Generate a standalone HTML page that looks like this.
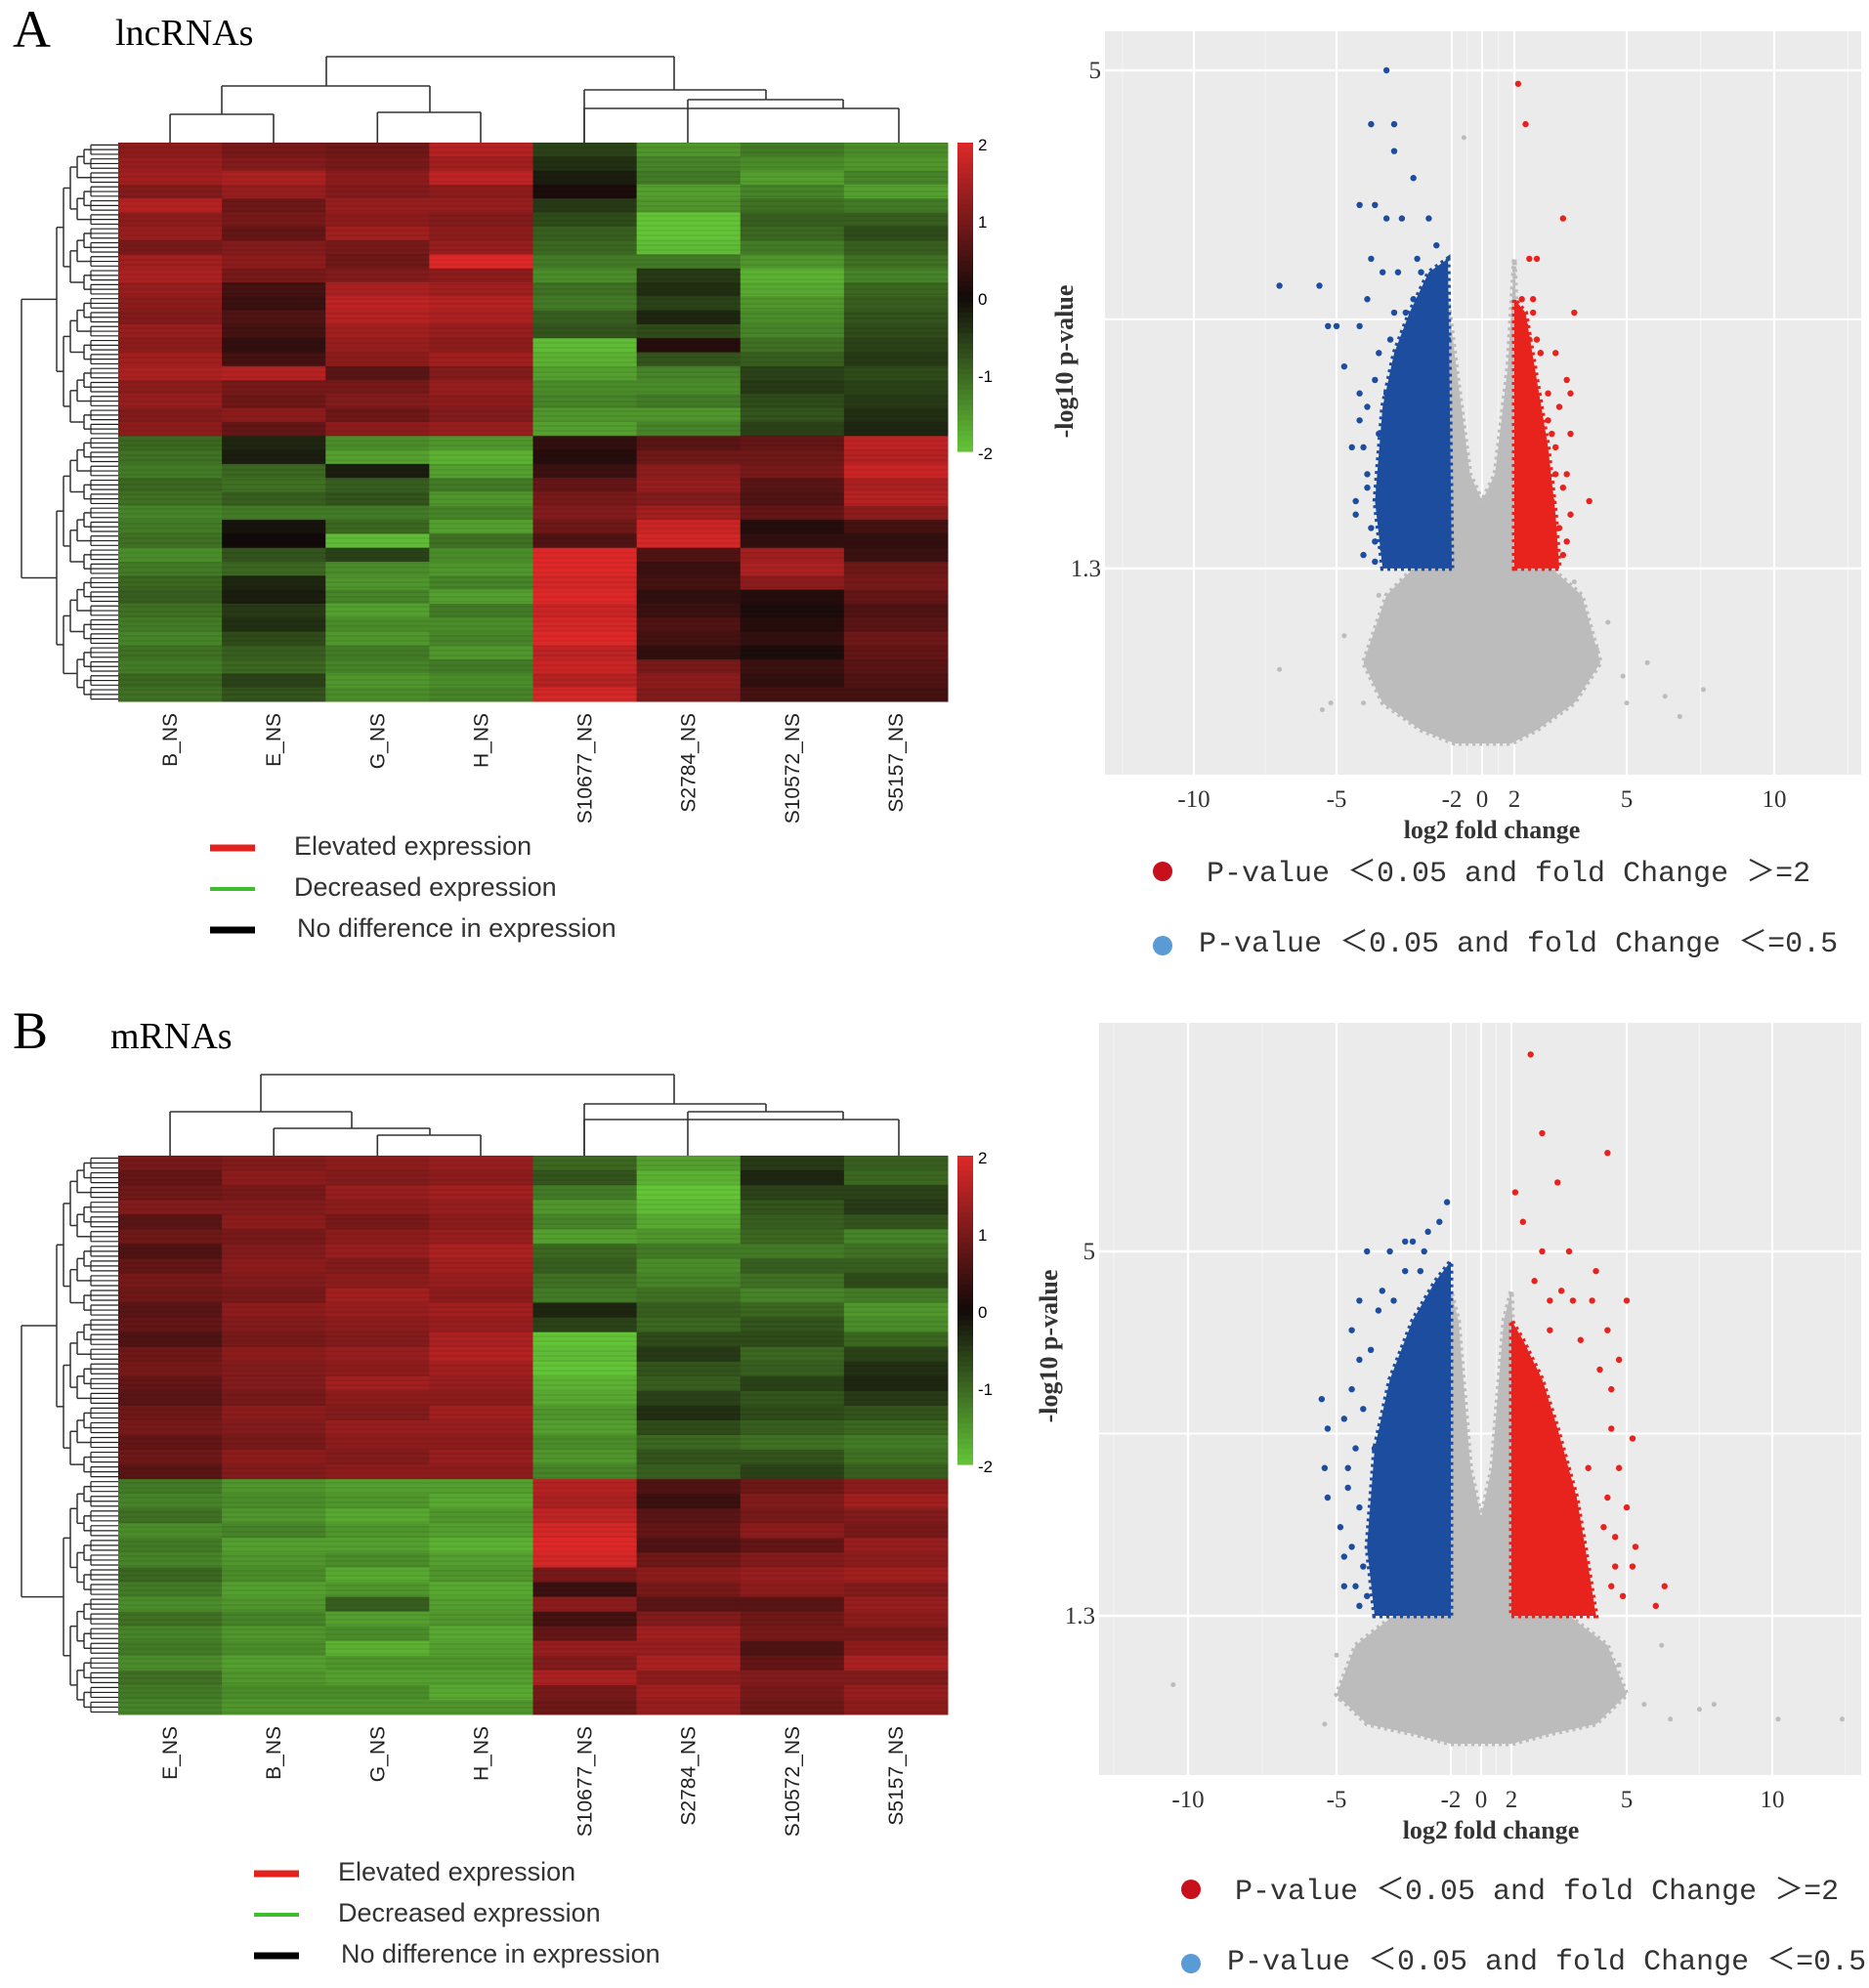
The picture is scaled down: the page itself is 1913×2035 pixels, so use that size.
<!DOCTYPE html>
<html><head><meta charset="utf-8">
<style>
html,body{margin:0;padding:0;background:#fff;}
svg{display:block;}
.ser{font-family:"Liberation Serif",serif;}
.sans{font-family:"Liberation Sans",sans-serif;}
.mono{font-family:"Liberation Mono","Noto Sans CJK SC",monospace;}
</style></head>
<body>
<svg id="chart" width="1913" height="2035" viewBox="0 0 1913 2035" xmlns="http://www.w3.org/2000/svg">
<text class="ser" x="13" y="48" font-size="54">A</text>
<text class="ser" x="118" y="46" font-size="38">lncRNAs</text>
<text class="ser" x="13" y="1073" font-size="54">B</text>
<text class="ser" x="113" y="1073" font-size="38">mRNAs</text>
</svg>
<script>
// ---------- Heatmap data (panel A, lncRNAs) ----------
const samplesA = ["B_NS","E_NS","G_NS","H_NS","S10677_NS","S2784_NS","S10572_NS","S5157_NS"];
const hmA_B = [1.2,1.3,1.4,1.1,1.6,1.2,1.3,1.0,1.4,1.5,1.3,1.2,1.1,1.3,1.2,1.4,1.5,1.2,1.3,1.1,1.2,-1.0,-1.1,-1.2,-1.0,-1.1,-1.3,-1.2,-1.1,-1.4,-1.2,-1.0,-0.9,-1.1,-1.2,-1.3,-1.1,-1.2,-1.0,-1.1];
const hmA_E = [1.0,1.1,1.5,1.3,0.9,1.0,0.8,1.1,1.2,1.0,0.5,0.4,0.6,0.5,0.3,0.5,1.6,1.0,0.9,1.2,0.8,-0.3,-0.2,-1.0,-1.1,-0.9,-1.2,-0.1,0.0,-0.8,-1.0,-0.3,-0.2,-0.5,-0.4,-0.7,-0.9,-1.0,-0.6,-0.8];
const hmA_G = [0.9,1.0,1.2,1.1,1.3,1.2,1.4,1.0,0.9,1.1,1.5,1.7,1.6,1.4,1.3,1.2,0.7,1.0,1.1,0.9,1.2,-1.4,-1.6,-0.2,-0.9,-0.8,-1.2,-1.0,-1.9,-0.6,-1.4,-1.5,-1.3,-1.6,-1.4,-1.5,-1.2,-1.3,-1.5,-1.4];
const hmA_H = [1.6,1.4,1.7,1.2,1.3,1.1,1.2,1.3,2.0,1.2,1.4,1.6,1.5,1.3,1.2,1.4,1.1,1.3,1.2,1.1,1.3,-1.5,-1.8,-1.6,-1.2,-1.5,-1.3,-1.6,-1.1,-1.4,-1.5,-1.3,-1.6,-1.2,-1.4,-1.3,-1.5,-1.2,-1.4,-1.3];
const hmA_S10677 = [-0.6,-0.4,-0.2,0.1,-0.5,-0.7,-0.9,-1.0,-1.2,-1.4,-1.1,-1.2,-0.9,-0.8,-1.9,-1.8,-1.6,-1.4,-1.3,-1.5,-1.6,0.3,0.2,0.4,0.8,1.0,1.1,0.9,0.6,2.0,2.0,1.9,2.0,1.8,1.9,2.0,1.7,1.8,1.6,1.9];
const hmA_S2784 = [-1.5,-1.3,-1.2,-1.6,-1.5,-2.0,-2.0,-1.9,-1.2,-0.5,-0.4,-0.6,-0.3,-0.7,0.2,-0.8,-1.3,-1.4,-1.2,-1.5,-1.3,0.7,0.9,1.2,1.3,1.1,1.4,1.8,1.9,0.6,0.4,0.5,0.3,0.4,0.6,0.5,0.3,1.0,1.2,1.1];
const hmA_S10572 = [-1.2,-1.4,-1.6,-1.3,-1.1,-0.9,-1.0,-1.2,-1.5,-1.8,-1.7,-1.5,-1.4,-1.3,-1.1,-0.9,-0.6,-0.5,-0.7,-0.8,-0.6,0.8,0.9,1.0,0.7,0.6,0.8,0.2,0.3,1.4,1.5,1.2,0.2,0.1,0.2,0.3,0.1,0.4,0.3,0.5];
const hmA_S5157 = [-1.4,-1.5,-1.3,-1.6,-1.2,-0.9,-0.7,-0.9,-1.1,-1.3,-1.0,-0.9,-0.8,-0.7,-0.6,-0.5,-0.7,-0.6,-0.5,-0.4,-0.3,1.7,1.6,1.8,1.5,1.6,1.2,0.5,0.3,0.4,0.9,1.0,0.8,0.6,0.7,0.9,0.8,0.7,0.6,0.5];

// ---------- Heatmap data (panel B, mRNAs) ----------
const samplesB = ["E_NS","B_NS","G_NS","H_NS","S10677_NS","S2784_NS","S10572_NS","S5157_NS"];
const hmB_E = [1.0,0.8,0.9,1.1,0.7,0.9,0.6,0.8,1.0,0.9,0.7,0.8,0.6,0.9,1.0,0.8,0.7,0.9,1.0,0.8,0.9,0.7,-1.2,-1.3,-1.1,-1.4,-1.2,-1.3,-1.0,-1.2,-1.4,-1.1,-1.3,-1.2,-1.4,-1.1,-1.2,-1.3];
const hmB_B = [1.1,1.2,1.0,1.1,1.2,1.0,1.1,1.2,1.1,1.0,1.2,1.1,1.0,1.2,1.1,1.1,1.0,1.2,1.1,1.0,1.2,1.1,-1.5,-1.4,-1.5,-1.3,-1.6,-1.5,-1.4,-1.6,-1.5,-1.3,-1.5,-1.4,-1.6,-1.5,-1.4,-1.5];
const hmB_G = [1.2,1.1,1.3,1.2,1.0,1.2,1.3,1.1,1.2,1.4,1.3,1.2,1.1,1.3,1.2,1.4,1.2,1.1,1.3,1.2,1.1,1.2,-1.6,-1.5,-1.7,-1.5,-1.6,-1.4,-1.7,-1.5,-0.9,-1.6,-1.4,-1.8,-1.5,-1.6,-1.4,-1.5];
const hmB_H = [1.3,1.2,1.4,1.3,1.2,1.3,1.5,1.4,1.3,1.2,1.4,1.3,1.5,1.6,1.4,1.3,1.2,1.4,1.3,1.2,1.3,1.2,-1.6,-1.7,-1.5,-1.6,-1.8,-1.6,-1.5,-1.7,-1.6,-1.5,-1.7,-1.6,-1.5,-1.6,-1.7,-1.5];
const hmB_S10677 = [-1.0,-0.8,-1.2,-1.5,-1.3,-1.6,-1.0,-0.9,-1.1,-1.2,-0.3,-0.6,-2.0,-1.9,-2.0,-1.8,-1.7,-1.5,-1.6,-1.4,-1.5,-1.3,1.6,1.5,1.7,1.9,2.0,1.9,1.0,0.4,1.2,0.5,0.8,1.3,1.1,1.5,1.0,0.9];
const hmB_S2784 = [-1.6,-1.8,-2.0,-1.9,-1.7,-1.5,-1.2,-1.4,-1.3,-1.1,-0.9,-1.0,-0.7,-0.5,-0.8,-0.9,-0.6,-0.4,-0.7,-1.0,-0.8,-0.9,0.6,0.4,0.7,0.8,0.6,0.9,1.2,1.0,0.7,1.1,1.4,1.3,1.5,1.2,1.4,1.3];
const hmB_S10572 = [-0.5,-0.3,-0.6,-0.8,-0.9,-1.0,-1.2,-0.9,-1.1,-1.3,-1.0,-0.8,-0.7,-1.0,-0.9,-0.6,-0.8,-0.7,-0.9,-1.1,-0.8,-0.6,0.9,1.1,1.0,1.2,0.8,1.1,1.3,1.2,0.7,0.9,1.0,0.6,0.8,1.1,1.0,0.9];
const hmB_S5157 = [-0.9,-1.0,-0.6,-0.5,-0.8,-1.3,-1.1,-0.9,-0.7,-1.2,-1.5,-1.4,-1.0,-0.6,-0.4,-0.3,-0.5,-0.8,-1.0,-1.2,-1.1,-0.9,1.2,1.4,1.1,1.0,1.3,1.2,1.4,1.1,1.3,1.2,1.0,1.2,1.5,1.1,1.3,1.2];

const colorbarTicks = [2,1,0,-1,-2];

// ---------- Volcano data ----------
const xTicks = [-10,-5,-2,0,2,5,10];
const yTicksA = [5,1.3];
const yTicksB = [5,1.3];

// Panel A volcano
const volA_blueX = [-3.7,-4.1,-3.5,-3.5,-3.0,-4.4,-4.0,-3.7,-3.3,-4.1,-3.8,-3.4,-7.0,-5.6,-5.3,-5.0,-4.8,-4.4,-4.6,-4.5,-4.5,-4.2,-4.3,-4.0,-3.5,-4.4,-4.2,-2.2,-2.1,-2.6,-2.4,-2.9,-3.2,-3.6,-3.9,-4.2,-3.9,-4.0,-4.3,-4.1,-3.9,-4.2,-3.8,-4.0,-2.5,-2.8,-3.0,-2.3,-3.5,-3.7,-4.4,-3.6];
const volA_blueY = [5.0,4.6,4.6,4.4,4.2,4.0,4.0,3.9,3.9,3.6,3.5,3.5,3.4,3.4,3.1,3.1,2.8,2.6,2.2,1.8,1.7,2.0,1.4,1.35,1.5,3.1,3.3,3.3,3.0,3.9,3.7,3.6,3.2,3.0,2.9,2.5,2.3,2.7,2.2,1.6,1.9,1.9,1.45,1.5,3.4,3.5,3.3,3.5,3.2,2.6,2.4,1.4];
const volA_redX = [2.1,2.3,3.3,2.4,2.6,2.2,2.5,3.6,2.2,3.4,3.2,3.5,3.3,3.5,4.0,3.4,2.8,3.1,2.6,2.9,2.3,2.7,2.4,2.7,2.9,3.1,3.0,3.2,2.9,3.3,3.4,2.8,3.1,3.5,2.5,3.0];
const volA_redY = [4.9,4.6,3.9,3.6,3.6,3.3,3.3,3.2,2.9,2.7,2.5,2.3,1.9,1.7,1.8,1.5,1.6,2.2,3.0,2.6,3.1,2.9,3.0,2.9,2.4,2.0,1.8,1.6,1.5,1.4,2.0,2.1,2.9,2.6,3.2,2.3];
const volA_greyX = [-7.0,-5.5,-4.3,4.9,5.7,6.3,7.6,5.0,4.5,-4.8,-1.2,3.6,-3.9,4.2,-5.2,6.8];
const volA_greyY = [0.55,0.25,0.3,0.5,0.6,0.35,0.4,0.3,0.9,0.8,4.5,1.2,1.1,0.7,0.3,0.2];
const volA_blueAreaX = [-2,-3.8,-4.0,-3.8,-3.5,-3.1,-2.6,-2.1];
const volA_blueAreaY = [1.3,1.3,1.8,2.5,2.9,3.2,3.5,3.6];
const volA_redAreaX = [2,3.2,3.1,2.9,2.6,2.3,2];
const volA_redAreaY = [1.3,1.3,1.7,2.2,2.7,3.2,3.3];
const volA_greyAreaX = [-2.3,-2.1,-1.6,-0.8,0,0.8,1.6,2.0,2.3,3.0,3.8,4.3,3.6,2.6,1.8,1.2,-1.2,-1.8,-2.8,-3.8,-4.3,-3.7,-3.0];
const volA_greyAreaY = [1.3,3.3,2.7,2.0,1.8,2.0,2.8,3.6,1.3,1.3,1.1,0.6,0.3,0.1,0.0,0.0,0.0,0.0,0.1,0.3,0.6,1.1,1.3];

// Panel B volcano
const volB_blueX = [-3.2,-4.2,-3.6,-2.3,-2.6,-4.6,-4.4,-5.5,-5.3,-5.4,-5.3,-4.9,-4.7,-4.5,-4.2,-3.0,-4.0,-4.3,-2.1,-3.8,-2.8,-4.8,-4.4,-4.6,-4.8,-4.5,-4.7,-4.4,-4.6,-4.3,-4.4,-3.9,-3.5,-4.1,-3.2,-2.7,-4.8];
const volB_blueY = [5.1,5.0,5.0,5.3,5.2,4.2,3.9,3.5,3.2,2.8,2.5,2.2,2.6,1.6,1.5,5.1,3.0,3.4,5.5,4.6,4.8,1.9,4.5,3.6,3.3,3.0,2.8,2.4,2.0,1.8,1.4,4.4,4.5,4.0,4.8,5.0,1.6];
const volB_redX = [2.5,2.8,4.5,3.2,2.8,3.5,4.2,5.0,2.3,4.6,5.2,4.8,3.8,6.3,6.0,5.3,4.7,4.4,5.0,4.0,2.1,3.0,4.5,4.3,4.6,4.8,4.5,4.7,4.6,4.9,5.2,3.6,4.1,3.3,2.6,3.0];
const volB_redY = [7.0,6.2,6.0,5.7,5.0,5.0,4.8,4.5,5.3,3.6,3.1,3.9,4.1,1.6,1.4,2.0,1.8,2.2,2.4,2.8,5.6,4.2,4.2,3.8,3.2,2.8,2.5,2.1,1.6,1.5,1.8,4.5,4.5,4.6,4.7,4.5];
const volB_greyX = [-10.5,-5.4,-5.0,8.0,10.2,12.4,6.5,7.5,5.6,-4.9,6.2,4.8];
const volB_greyY = [0.6,0.2,0.9,0.4,0.25,0.25,0.25,0.35,0.4,0.45,1.0,0.8];
const volB_blueAreaX = [-2,-4.0,-4.2,-4.0,-3.6,-3.0,-2.4,-2];
const volB_blueAreaY = [1.3,1.3,2.0,3.0,3.7,4.3,4.7,4.9];
const volB_redAreaX = [2,4.2,4.0,3.7,3.2,2.8,2.3,2];
const volB_redAreaY = [1.3,1.3,1.8,2.5,3.2,3.7,4.1,4.3];
const volB_greyAreaX = [-2.3,-2.0,-1.5,-0.7,0,0.7,1.5,2.0,2.3,3.5,4.5,5.0,4.2,3.0,2.0,1.2,-1.2,-2.0,-3.0,-4.2,-5.0,-4.5,-3.5];
const volB_greyAreaY = [1.3,4.6,4.3,2.8,2.3,2.8,4.3,4.6,1.3,1.3,1.0,0.5,0.2,0.1,0.0,0.0,0.0,0.0,0.1,0.2,0.5,1.0,1.3];

// ---------- drawing ----------
const NS = "http://www.w3.org/2000/svg";
const svg = document.getElementById("chart");
function mk(tag, parent) { const e = document.createElementNS(NS, tag); (parent || svg).appendChild(e); return e; }
function lerp(a,b,t){return Math.round(a+(b-a)*t);}
function heatColor(v){
  const t = Math.max(-1, Math.min(1, v/2));
  if (t >= 0) return `rgb(${lerp(18,222,t)},${lerp(10,40,t)},${lerp(10,40,t)})`;
  const u = -t; return `rgb(${lerp(18,100,u)},${lerp(10,196,u)},${lerp(10,56,u)})`;
}
function line(g, x1,y1,x2,y2, stroke, w){
  const l = mk("line", g);
  l.setAttribute("x1",x1); l.setAttribute("y1",y1); l.setAttribute("x2",x2); l.setAttribute("y2",y2);
  l.setAttribute("stroke",stroke); l.setAttribute("stroke-width",w);
  return l;
}

function drawHeatmap(cfg){
  const g = mk("g");
  
  
  const cols = cfg.cols, nRows = cols[0].length;
  const cw = (cfg.x1 - cfg.x0) / cols.length, rh = (cfg.y1 - cfg.y0) / nRows;
  const xCol = i => cfg.x0 + i*cw;
  const yRow = j => cfg.y0 + j*rh;
  cols.forEach((arr, i) => arr.forEach((v, j) => {
    const r = mk("rect", g);
    
    
    r.setAttribute("x", xCol(i)); r.setAttribute("y", yRow(j));
    r.setAttribute("width", cw+0.5); r.setAttribute("height", rh+0.5);
    r.setAttribute("fill", heatColor(v));
  }));
  for (let y = cfg.y0; y < cfg.y1; y += 5) {
    const s = line(g, cfg.x0, y, cfg.x1, y, "rgba(0,0,0,0.12)", 1);
    
    
  }
  const dg = mk("g", g);
  
  
  function tree(a, b, depth){
    const ym = (yRow(a) + yRow(b+1)) / 2;
    if (b - a < 1) {
      const xs = cfg.x0 - 28;
      for (let k=0;k<3;k++){ line(dg, xs, yRow(a)+rh*(k+0.5)/3, cfg.x0, yRow(a)+rh*(k+0.5)/3, "#222", 1.2); }
      line(dg, xs, yRow(a)+rh/6, xs, yRow(a)+rh*5/6, "#222", 1.2);
      return {y: ym, x: xs};
    }
    const m = Math.floor((a+b)/2);
    const L = tree(a, m, depth+1), R = tree(m+1, b, depth+1);
    const x = Math.min(L.x, R.x) - (depth === 0 ? 30 : 7);
    line(dg, x, L.y, L.x, L.y, "#333", 1.5);
    line(dg, x, R.y, R.x, R.y, "#333", 1.5);
    line(dg, x, L.y, x, R.y, "#333", 1.5);
    return {y: (L.y+R.y)/2, x: x};
  }
  const split = cfg.split;
  const T = tree(0, split-1, 1), B = tree(split, nRows-1, 1);
  const xr = cfg.x0 - 99;
  line(dg, xr, T.y, T.x, T.y, "#333", 1.5);
  line(dg, xr, B.y, B.x, B.y, "#333", 1.5);
  line(dg, xr, T.y, xr, B.y, "#333", 1.5);
  const cg = mk("g", g);
  
  
  const cx = i => xCol(i) + cw/2;
  cfg.colTree.forEach(seg => {
    const [xa, xb, yt, ya, yb] = seg;
    const xl = typeof xa === "number" && xa < 10 ? cx(xa) : xa;
    line(cg, xl, yt, xl, ya, "#333", 1.6);
    line(cg, xb, yt, xb, yb, "#333", 1.6);
    line(cg, xl, yt, xb, yt, "#333", 1.6);
  });
  cfg.labels.forEach((lab, i) => {
    const t = mk("text", g);
    
    
    t.setAttribute("class", "sans");
    t.setAttribute("font-size", "21");
    t.setAttribute("fill", "#222");
    t.setAttribute("text-anchor", "end");
    t.setAttribute("transform", `translate(${cx(i)+7},${cfg.y1+12}) rotate(-90)`);
    t.textContent = lab;
  });
  const cb = mk("g", g);
  
  
  const steps = 60, cbH = cfg.cbBottom - cfg.y0;
  for (let k=0;k<steps;k++){
    const r = mk("rect", cb);
    r.setAttribute("x", cfg.x1+10); r.setAttribute("y", cfg.y0 + k*cbH/steps);
    r.setAttribute("width", 16); r.setAttribute("height", cbH/steps+0.6);
    r.setAttribute("fill", heatColor(2 - 4*(k+0.5)/steps));
  }
  colorbarTicks.forEach(v => {
    const t = mk("text", cb);
    
    
    t.setAttribute("class", "sans"); t.setAttribute("font-size", "17");
    t.setAttribute("x", cfg.x1+31);
    t.setAttribute("y", cfg.y0 + (2 - v)/4*cbH + 8);
    t.textContent = String(v);
  });
  const lg = mk("g", g);
  
  
  const items = [["#e4211d","Elevated expression",7],["#3ebd2e","Decreased expression",4],["#000","No difference in expression",7]];
  items.forEach((it, k) => {
    const y = cfg.legY + k*cfg.legGap;
    const l = line(lg, cfg.legX, y, cfg.legX+46, y, it[0], it[2]);
    
    
    const t = mk("text", lg);
    
    
    t.setAttribute("class", "sans"); t.setAttribute("font-size", "27"); t.setAttribute("fill", "#333");
    t.setAttribute("x", cfg.legX + 86 + (k===2?3:0)); t.setAttribute("y", y + 7);
    t.textContent = it[1];
  });
}

function drawVolcano(cfg){
  const g = mk("g");
  
  
  const px = cfg.px;
  function xs(v){
    const d = xTicks, n = d.length;
    let i = 0;
    if (v <= d[0]) i = 0; else if (v >= d[n-1]) i = n-2; else { while (v > d[i+1]) i++; }
    return px[i] + (v - d[i]) / (d[i+1]-d[i]) * (px[i+1]-px[i]);
  }
  const ys = v => cfg.y0pix + (cfg.y5pix - cfg.y0pix) * v / 5;
  const bg = mk("rect", g);
  
  
  bg.setAttribute("x", cfg.left); bg.setAttribute("y", cfg.top);
  bg.setAttribute("width", cfg.right - cfg.left); bg.setAttribute("height", cfg.bottom - cfg.top);
  bg.setAttribute("fill", "#ebebeb");
  [-12.5,-7.5,7.5,12.5,-1,1].forEach(v => { const l = line(g, xs(v), cfg.top, xs(v), cfg.bottom, "#f4f4f4", 1.2);   });
  xTicks.forEach(v => {
    const l = line(g, xs(v), cfg.top, xs(v), cfg.bottom, "#fff", 2.2);
    
    
    const t = mk("text", g);
    
    
    t.setAttribute("class", "ser"); t.setAttribute("font-size", "25"); t.setAttribute("text-anchor", "middle");
    t.setAttribute("x", xs(v)); t.setAttribute("y", cfg.bottom + 33);
    t.setAttribute("fill", "#333");
    t.textContent = String(v);
  });
  const mid = mk("line", g);
  
  
  mid.setAttribute("x1", cfg.left); mid.setAttribute("x2", cfg.right);
  mid.setAttribute("y1", ys(3.15)); mid.setAttribute("y2", ys(3.15));
  mid.setAttribute("stroke", "#fff"); mid.setAttribute("stroke-width", 2);
  cfg.yTicks.forEach(v => {
    const l = line(g, cfg.left, ys(v), cfg.right, ys(v), "#fff", 2.5);
    
    
    const t = mk("text", g);
    
    
    t.setAttribute("class", "ser"); t.setAttribute("font-size", "25"); t.setAttribute("text-anchor", "end");
    t.setAttribute("x", cfg.left - 4); t.setAttribute("y", ys(v) + 8);
    t.setAttribute("fill", "#333");
    t.textContent = String(v);
  });
  function area(X, Y, fill, name){
    const p = mk("polygon", g);
    
    
    p.setAttribute("points", X.map((x,i)=> xs(x)+","+ys(Y[i])).join(" "));
    p.setAttribute("fill", fill);
    p.setAttribute("stroke", fill);
    p.setAttribute("stroke-width", "5");
    p.setAttribute("stroke-dasharray", "3 4");
  }
  function pts(X, Y, fill, r, name){
    X.forEach((x,i) => {
      const c = mk("circle", g);
      
      
      c.setAttribute("cx", xs(x)); c.setAttribute("cy", ys(Y[i])); c.setAttribute("r", r); c.setAttribute("fill", fill);
    });
  }
  area(cfg.greyAX, cfg.greyAY, "#bcbcbc", "nonsignificant-density");
  area(cfg.blueAX, cfg.blueAY, "#1d4d9e", "down-regulated-density");
  area(cfg.redAX, cfg.redAY, "#e8231d", "up-regulated-density");
  pts(cfg.greyX, cfg.greyY, "#bcbcbc", 2.5, "nonsignificant-point");
  pts(cfg.blueX, cfg.blueY, "#1d4d9e", 3.2, "down-regulated-point");
  pts(cfg.redX, cfg.redY, "#e8231d", 3.2, "up-regulated-point");
  const xt = mk("text", g);
  
  
  xt.setAttribute("class", "ser"); xt.setAttribute("font-size", "26"); xt.setAttribute("font-weight", "bold");
  xt.setAttribute("text-anchor", "middle"); xt.setAttribute("fill", "#333");
  xt.setAttribute("x", xs(0)+10); xt.setAttribute("y", cfg.bottom + 65);
  xt.textContent = "log2 fold change";
  const yt = mk("text", g);
  
  
  yt.setAttribute("class", "ser"); yt.setAttribute("font-size", "26"); yt.setAttribute("font-weight", "bold");
  yt.setAttribute("text-anchor", "middle"); yt.setAttribute("fill", "#333");
  yt.setAttribute("transform", `translate(${cfg.ytX},${cfg.ytY}) rotate(-90)`);
  yt.textContent = "-log10 p-value";
  const leg = [["#c8101c","P-value \uFF1C0.05 and fold Change \uFF1E=2"],["#5b9bd5","P-value \uFF1C0.05 and fold Change \uFF1C=0.5"]];
  leg.forEach((it,k) => {
    const y = cfg.legY + k*cfg.legGap;
    const c = mk("circle", g);
    
    
    c.setAttribute("cx", cfg.legX); c.setAttribute("cy", y + (k?4:0)); c.setAttribute("r", 10); c.setAttribute("fill", it[0]);
    const t = mk("text", g);
    
    
    t.setAttribute("class", "mono"); t.setAttribute("font-size", "30"); t.setAttribute("fill", "#333");
    t.setAttribute("x", cfg.legX + 45 - (k?8:0)); t.setAttribute("y", y + 10);
    t.textContent = it[1];
  });
}

drawHeatmap({name:"lncrna-heatmap", cols:[hmA_B,hmA_E,hmA_G,hmA_H,hmA_S10677,hmA_S2784,hmA_S10572,hmA_S5157],
  labels:samplesA, x0:121, x1:970, y0:146, y1:718, split:21, cbBottom:462,
  colTree:[[0,280,117,146,146],[2,492,115,146,146],[227,440,88,117,115],[598,920,111,146,146],[704,863,102,146,111],[598,784,92,146,102],[334,690,58,88,92]],
  legX:215, legY:868, legGap:42});
drawHeatmap({name:"mrna-heatmap", cols:[hmB_E,hmB_B,hmB_G,hmB_H,hmB_S10677,hmB_S2784,hmB_S10572,hmB_S5157],
  labels:samplesB, x0:121, x1:970, y0:1183, y1:1755, split:22, cbBottom:1499,
  colTree:[[2,492,1162,1183,1183],[1,440,1155,1183,1162],[0,360,1138,1183,1155],[598,920,1146,1183,1183],[704,863,1138,1183,1146],[598,784,1130,1183,1138],[267,690,1100,1138,1130]],
  legX:260, legY:1918, legGap:42});
drawVolcano({name:"lncrna-volcano", left:1131, right:1905, top:32, bottom:793,
  px:[1222,1368,1486,1517,1550,1665,1816], y0pix:761, y5pix:72, yTicks:yTicksA,
  blueX:volA_blueX, blueY:volA_blueY, redX:volA_redX, redY:volA_redY, greyX:volA_greyX, greyY:volA_greyY,
  blueAX:volA_blueAreaX, blueAY:volA_blueAreaY, redAX:volA_redAreaX, redAY:volA_redAreaY, greyAX:volA_greyAreaX, greyAY:volA_greyAreaY,
  ytX:1098, ytY:370, legX:1190, legY:892, legGap:72});
drawVolcano({name:"mrna-volcano", left:1125, right:1905, top:1047, bottom:1817,
  px:[1216,1368,1485,1516,1547,1665,1814], y0pix:1785, y5pix:1281, yTicks:yTicksB,
  blueX:volB_blueX, blueY:volB_blueY, redX:volB_redX, redY:volB_redY, greyX:volB_greyX, greyY:volB_greyY,
  blueAX:volB_blueAreaX, blueAY:volB_blueAreaY, redAX:volB_redAreaX, redAY:volB_redAreaY, greyAX:volB_greyAreaX, greyAY:volB_greyAreaY,
  ytX:1082, ytY:1378, legX:1219, legY:1934, legGap:72});
</script>
</body></html>
